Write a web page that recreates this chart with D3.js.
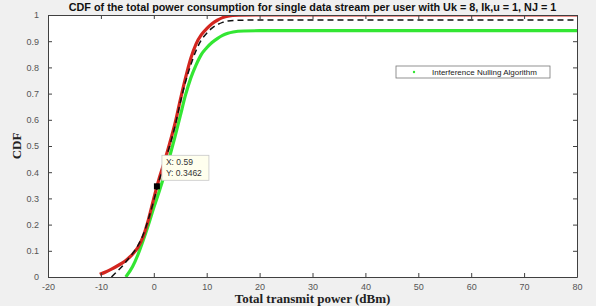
<!DOCTYPE html>
<html>
<head>
<meta charset="utf-8">
<script src="https://cdn.jsdelivr.net/npm/d3@7"></script>
<style>
  body { margin: 0; background: #f0f0f0; }
  svg { display: block; }
</style>
</head>
<body>
<div id="chart"></div>
<script>
// values: [power dBm, CDF]
const redSeries = [[-10.2,0.01],[-9,0.02],[-8,0.03],[-7,0.041],[-6,0.053],[-5,0.068],[-4,0.087],[-3,0.113],[-2,0.155],[-1,0.22],[0,0.3],[1,0.375],[2,0.44],[3,0.51],[4,0.585],[5,0.675],[6,0.76],[7,0.835],[8,0.89],[9,0.925],[10,0.948],[11,0.967],[12,0.98],[13,0.99],[14,0.996],[16,0.999],[20,1],[80,1]];
const dashedSeries = [[-8,0],[-7,0.02],[-6,0.04],[-5,0.065],[-4,0.09],[-3,0.12],[-2,0.162],[-1,0.222],[0,0.292],[1,0.368],[2,0.435],[3,0.5],[4,0.575],[5,0.665],[6,0.745],[7,0.81],[8,0.865],[9,0.905],[10,0.93],[11,0.95],[12,0.963],[13,0.972],[14,0.977],[16,0.98],[20,0.981],[80,0.981]];
const greenSeries = [[-5.3,0],[-4,0.04],[-3,0.085],[-2,0.14],[-1,0.2],[0,0.265],[1,0.325],[2,0.39],[3,0.46],[4,0.535],[5,0.615],[6,0.695],[7,0.76],[8,0.81],[9,0.85],[10,0.875],[11,0.895],[12,0.91],[13,0.922],[14,0.93],[15,0.935],[17,0.939],[20,0.94],[80,0.94]];
const xTicks = [-20,-10,0,10,20,30,40,50,60,70,80];
const yTicks = [0,0.1,0.2,0.3,0.4,0.5,0.6,0.7,0.8,0.9,1];
const dataTip = { x: 0.59, y: 0.3462 };
const legendLabel = "Interference Nulling Algorithm";
const titleText = "CDF of the total power consumption for single data stream per user with Uk = 8, Ik,u = 1, NJ = 1";

const width = 596, height = 306;
const margin = { top: 15, right: 19, bottom: 29, left: 48 };
const w = width - margin.left - margin.right;
const h = height - margin.top - margin.bottom;

const svg = d3.select("#chart").append("svg")
    .attr("width", width)
    .attr("height", height);

svg.append("rect").attr("width", width).attr("height", height).attr("fill", "#f0f0f0");

const g = svg.append("g")
    .attr("transform", `translate(${margin.left},${margin.top})`);

const x = d3.scaleLinear().domain([-20, 80]).range([0, w]);
const y = d3.scaleLinear().domain([0, 1]).range([h, 0]);

g.append("rect").attr("width", w).attr("height", h).attr("fill", "#fff");

g.append("clipPath").attr("id", "clip")
  .append("rect").attr("width", w).attr("height", h);

const line = d3.line()
    .x(d => x(d[0]))
    .y(d => y(d[1]))
    .curve(d3.curveMonotoneX);

const plot = g.append("g").attr("clip-path", "url(#clip)");

plot.append("path").datum(greenSeries)
    .attr("fill", "none").attr("stroke", "#33e633").attr("stroke-width", 3.2)
    .attr("d", line);
plot.append("path").datum(redSeries)
    .attr("fill", "none").attr("stroke", "#d3261f").attr("stroke-width", 3.2)
    .attr("d", line);
plot.append("path").datum(dashedSeries)
    .attr("fill", "none").attr("stroke", "#111").attr("stroke-width", 1.5)
    .attr("stroke-dasharray", "6,4")
    .attr("d", line);

// axes, matlab style: ticks inward, box on
const axisColor = "#404040";
const tickFont = "Arial, 'Liberation Sans', sans-serif";

const xAxis = g.append("g")
    .attr("transform", `translate(0,${h})`)
    .call(d3.axisBottom(x).tickValues(xTicks).tickSizeInner(-4).tickSizeOuter(0).tickPadding(7)
        .tickFormat(d => String(d)));
const yAxis = g.append("g")
    .call(d3.axisLeft(y).tickValues(yTicks).tickSizeInner(-4).tickSizeOuter(0).tickPadding(8)
        .tickFormat(d => String(+d.toFixed(1))));
const xTop = g.append("g")
    .call(d3.axisTop(x).tickValues(xTicks).tickSizeInner(-4).tickSizeOuter(0).tickFormat(""));
const yRight = g.append("g")
    .attr("transform", `translate(${w},0)`)
    .call(d3.axisRight(y).tickValues(yTicks).tickSizeInner(-4).tickSizeOuter(0).tickFormat(""));

[xAxis, yAxis, xTop, yRight].forEach(a => {
    a.selectAll("path").attr("stroke", axisColor);
    a.selectAll("line").attr("stroke", axisColor);
    a.selectAll("text").attr("fill", "#555").style("font-family", tickFont).style("font-size", "9px");
});
yAxis.selectAll("text").attr("dx", "-1");

// data tip
const tx = x(dataTip.x), ty = y(dataTip.y);
g.append("rect")
    .attr("x", tx - 3).attr("y", ty - 3).attr("width", 6).attr("height", 6)
    .attr("fill", "#000");
const tip = g.append("g").attr("transform", `translate(${tx + 5},${ty - 31})`);
tip.append("rect")
    .attr("width", 47).attr("height", 25)
    .attr("fill", "#ffffee").attr("stroke", "#c8c8c8").attr("stroke-width", 0.8);
tip.append("text").attr("x", 4).attr("y", 10)
    .style("font-family", tickFont).style("font-size", "8.5px").attr("fill", "#333")
    .text("X: " + dataTip.x);
tip.append("text").attr("x", 4).attr("y", 21)
    .style("font-family", tickFont).style("font-size", "8.5px").attr("fill", "#333")
    .text("Y: " + dataTip.y);

// legend
const legend = g.append("g").attr("transform", `translate(${396 - margin.left},${66 - margin.top})`);
legend.append("rect")
    .attr("width", 154).attr("height", 12)
    .attr("fill", "#fff").attr("stroke", "#777").attr("stroke-width", 0.8);
legend.append("circle").attr("cx", 18).attr("cy", 6).attr("r", 1.2).attr("fill", "#33e633");
legend.append("text").attr("x", 36).attr("y", 9)
    .style("font-family", tickFont).style("font-size", "8px").attr("fill", "#222")
    .text(legendLabel);

// title and axis labels
svg.append("text")
    .attr("x", margin.left + w / 2).attr("y", 11)
    .attr("text-anchor", "middle")
    .style("font-family", tickFont).style("font-size", "10.8px").style("font-weight", "bold")
    .attr("fill", "#111")
    .text(titleText);

svg.append("text")
    .attr("x", margin.left + w / 2).attr("y", 303)
    .attr("text-anchor", "middle")
    .style("font-family", "'Liberation Serif', 'Times New Roman', serif").style("font-size", "13px").style("font-weight", "bold")
    .attr("fill", "#222")
    .text("Total transmit power (dBm)");

svg.append("text")
    .attr("transform", `translate(21,${margin.top + h / 2}) rotate(-90)`)
    .attr("text-anchor", "middle")
    .style("font-family", "'Liberation Serif', 'Times New Roman', serif").style("font-size", "13px").style("font-weight", "bold")
    .attr("fill", "#222")
    .text("CDF");
</script>
</body>
</html>
